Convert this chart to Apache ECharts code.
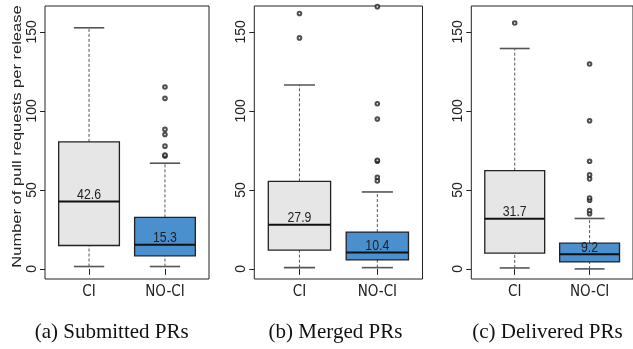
<!DOCTYPE html>
<html>
<head>
<meta charset="utf-8">
<script src="https://cdn.jsdelivr.net/npm/echarts@6/dist/echarts.min.js"></script>
<style>
  html, body { margin: 0; padding: 0; background: #fff; overflow: hidden; }
  #chart { width: 633px; height: 349px; }
</style>
</head>
<body>
<div id="chart"></div>
<script>
// Group names on the x axis (positions 1 and 2)
const groups = ['CI', 'NO-CI'];
const yTicks = [0, 50, 100, 150];
const captions = ['(a) Submitted PRs', '(b) Merged PRs', '(c) Delivered PRs'];

// Five-number summaries: [lower whisker, Q1, median, Q3, upper whisker]
const submittedCI = [1.5, 14.8, 42.6, 80.4, 152.6];
const submittedNoCI = [1.5, 8.3, 15.3, 32.6, 66.9];
const submittedCIOut = [];
const submittedNoCIOut = [71.5, 72, 77.7, 85.1, 88.3, 107.9, 115.1];

const mergedCI = [0.8, 11.9, 27.9, 55.4, 116.4];
const mergedNoCI = [0.8, 5.7, 10.4, 23.3, 48.7];
const mergedCIOut = [146.2, 161.7];
const mergedNoCIOut = [55.7, 58.0, 68.1, 68.8, 94.9, 104.5, 166.0];

const deliveredCI = [0.6, 10.0, 31.7, 62.2, 139.5];
const deliveredNoCI = [0, 4.4, 9.2, 16.3, 31.9];
const deliveredCIOut = [155.6];
const deliveredNoCIOut = [34.9, 37.0, 43.4, 44.9, 57.0, 59.5, 68.1, 93.8, 129.7];

const panelBoxes = [
  [submittedCI, submittedNoCI],
  [mergedCI, mergedNoCI],
  [deliveredCI, deliveredNoCI]
];
const panelOutliers = [
  [submittedCIOut, submittedNoCIOut],
  [mergedCIOut, mergedNoCIOut],
  [deliveredCIOut, deliveredNoCIOut]
];

const fills = ['#e6e6e6', '#4a8fce'];
const ink = '#222';
const narrow = '"Liberation Sans Narrow", "DejaVu Sans Condensed", sans-serif';
const sans = '"Liberation Sans", Arial, sans-serif';
const serif = '"Liberation Serif", "Times New Roman", serif';

// Plot frames (pixels)
const frames = [
  { left: 45, width: 164 },
  { left: 254.3, width: 168.2 },
  { left: 471.3, width: 168.2 }
];
const frameTop = 6, frameHeight = 273;

function renderBox(params, api) {
  const x = api.value(0);
  const vals = [1, 2, 3, 4, 5].map(i => api.value(i));
  const ys = vals.map(v => api.coord([x, v])[1]);
  const cx = api.coord([x, vals[2]])[0];
  const half = api.size([0.4, 0])[0];
  const capHalf = half / 2;
  const [lo, q1, med, q3, hi] = ys;
  const dash = { stroke: '#555', lineWidth: 1, lineDash: [3, 2] };
  const cap = { stroke: '#555', lineWidth: 1.6 };
  return {
    type: 'group',
    children: [
      { type: 'line', shape: { x1: cx, y1: lo, x2: cx, y2: q1 }, style: dash },
      { type: 'line', shape: { x1: cx, y1: q3, x2: cx, y2: hi }, style: dash },
      { type: 'line', shape: { x1: cx - capHalf, y1: lo, x2: cx + capHalf, y2: lo }, style: cap },
      { type: 'line', shape: { x1: cx - capHalf, y1: hi, x2: cx + capHalf, y2: hi }, style: cap },
      { type: 'rect', shape: { x: cx - half, y: q3, width: 2 * half, height: q1 - q3 },
        style: { fill: fills[Math.round(x) - 1], stroke: ink, lineWidth: 1.3 } },
      { type: 'line', shape: { x1: cx - half, y1: med, x2: cx + half, y2: med },
        style: { stroke: '#111', lineWidth: 2 } },
      // median value, set in a condensed face just above the median line
      { type: 'text', x: cx, y: med - 6.5, scaleX: 0.82,
        style: { text: vals[2].toFixed(1), align: 'center', verticalAlign: 'middle',
                 fontSize: 15, fontFamily: sans, fill: ink } }
    ]
  };
}

const grid = [], xAxis = [], yAxis = [], series = [], graphic = [];

frames.forEach((f, i) => {
  grid.push({ left: f.left, width: f.width, top: frameTop, height: frameHeight,
              show: true, borderColor: ink, borderWidth: 1, backgroundColor: 'transparent' });
  xAxis.push({
    gridIndex: i, type: 'value', min: 0.42, max: 2.58,
    axisLine: { show: false }, splitLine: { show: false },
    axisTick: { show: true, length: 6, customValues: [1, 2], lineStyle: { color: ink } },
    axisLabel: { customValues: [1, 2], margin: 6, fontSize: 15, fontFamily: narrow, color: ink,
                 formatter: v => groups[Math.round(v) - 1] }
  });
  yAxis.push({
    gridIndex: i, type: 'value', min: -6.4, max: 166.4,
    axisLine: { show: false }, splitLine: { show: false },
    axisTick: { show: true, length: 5, customValues: yTicks, lineStyle: { color: ink } },
    axisLabel: { customValues: yTicks, rotate: 90, margin: 6, fontSize: 14, fontFamily: sans, color: ink }
  });
  series.push({
    type: 'custom', xAxisIndex: i, yAxisIndex: i,
    data: panelBoxes[i].map((b, g) => [g + 1].concat(b)),
    encode: { x: 0, y: [1, 2, 3, 4, 5] },
    renderItem: renderBox, silent: true
  });
  const pts = [];
  panelOutliers[i].forEach((list, g) => list.forEach(v => pts.push([g + 1, v])));
  series.push({
    type: 'scatter', xAxisIndex: i, yAxisIndex: i, data: pts,
    symbol: 'emptyCircle', symbolSize: 3.6, silent: true,
    itemStyle: { color: ink, borderColor: ink, borderWidth: 0.9 }
  });
  graphic.push({
    type: 'text', x: f.left + [66.7, 81.2, 76.2][i], y: 332,
    style: { text: captions[i], font: '21px ' + serif, fill: '#111',
             align: 'center', verticalAlign: 'middle' }
  });
});

graphic.push({
  type: 'text', x: 17, y: 136.5, rotation: Math.PI / 2, scaleY: 0.8,
  style: { text: 'Number of pull requests per release', font: '16.5px ' + sans, fill: ink,
           align: 'center', verticalAlign: 'middle' }
});

const chart = echarts.init(document.getElementById('chart'), null, { renderer: 'canvas' });
chart.setOption({
  animation: false,
  backgroundColor: '#fff',
  grid, xAxis, yAxis, series, graphic
});
</script>
</body>
</html>
